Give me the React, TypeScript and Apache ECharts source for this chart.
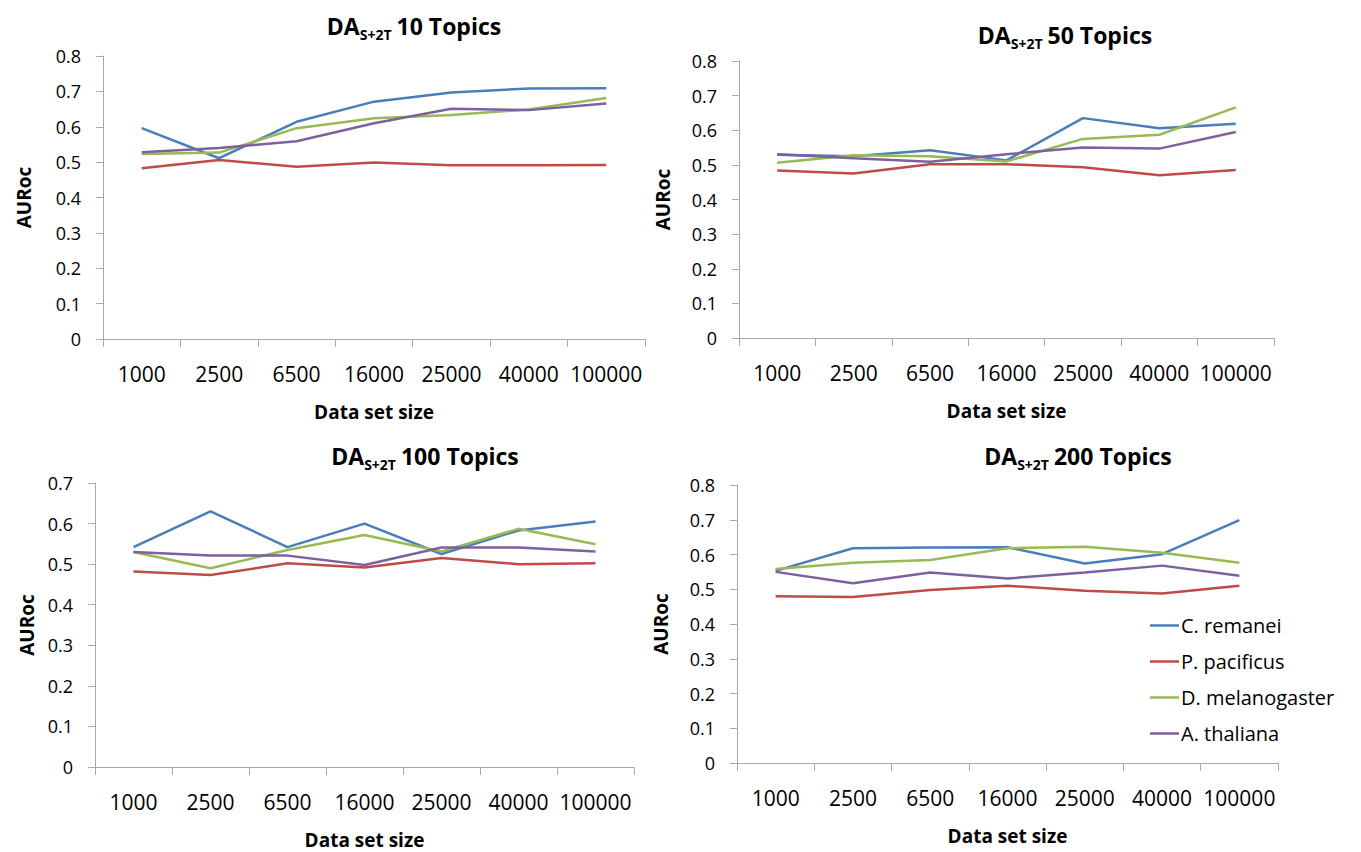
import React, { useEffect, useRef } from "react";
import * as echarts from "echarts";

const categories = ["1000", "2500", "6500", "16000", "25000", "40000", "100000"];
const speciesNames = ["C. remanei", "P. pacificus", "D. melanogaster", "A. thaliana"];
const speciesColors = ["#4A7EBB", "#BE4B48", "#98B954", "#7D60A0"];

// 10 topics
const t10Remanei = [0.596, 0.511, 0.614, 0.671, 0.697, 0.708, 0.709];
const t10Pacificus = [0.483, 0.506, 0.487, 0.499, 0.491, 0.491, 0.492];
const t10Melanogaster = [0.523, 0.527, 0.596, 0.624, 0.633, 0.649, 0.681];
const t10Thaliana = [0.528, 0.54, 0.559, 0.61, 0.651, 0.647, 0.666];

// 50 topics
const t50Remanei = [0.529, 0.525, 0.542, 0.513, 0.635, 0.606, 0.619];
const t50Pacificus = [0.484, 0.475, 0.502, 0.502, 0.493, 0.47, 0.485];
const t50Melanogaster = [0.506, 0.528, 0.525, 0.51, 0.575, 0.587, 0.666];
const t50Thaliana = [0.531, 0.519, 0.509, 0.531, 0.55, 0.547, 0.595];

// 100 topics
const t100Remanei = [0.542, 0.63, 0.542, 0.6, 0.525, 0.583, 0.605];
const t100Pacificus = [0.482, 0.473, 0.502, 0.492, 0.515, 0.5, 0.502];
const t100Melanogaster = [0.53, 0.49, 0.535, 0.572, 0.531, 0.587, 0.549];
const t100Thaliana = [0.53, 0.521, 0.521, 0.498, 0.541, 0.541, 0.531];

// 200 topics
const t200Remanei = [0.553, 0.618, 0.62, 0.621, 0.574, 0.601, 0.699];
const t200Pacificus = [0.48, 0.478, 0.498, 0.51, 0.496, 0.488, 0.51];
const t200Melanogaster = [0.558, 0.576, 0.584, 0.618, 0.622, 0.605, 0.576];
const t200Thaliana = [0.55, 0.517, 0.548, 0.531, 0.548, 0.568, 0.539];

const topicCounts = ["10", "50", "100", "200"];
const yMaxes = [0.8, 0.8, 0.7, 0.8];
const panelData = [
  [t10Remanei, t10Pacificus, t10Melanogaster, t10Thaliana],
  [t50Remanei, t50Pacificus, t50Melanogaster, t50Thaliana],
  [t100Remanei, t100Pacificus, t100Melanogaster, t100Thaliana],
  [t200Remanei, t200Pacificus, t200Melanogaster, t200Thaliana],
];

const FONT = "'Open Sans', 'Liberation Sans', sans-serif";

// layout (pixels)
const grids = [
  { left: 103, top: 56, width: 542, height: 283 },
  { left: 739, top: 61, width: 535, height: 277 },
  { left: 95, top: 483, width: 539, height: 284 },
  { left: 737, top: 485, width: 541, height: 278 },
];
const titlePos = [
  { x: 409, y: 6 },
  { x: 1060, y: 15 },
  { x: 420, y: 436 },
  { x: 1073, y: 436 },
];
const yNameGaps = [70, 67, 59, 67];

export default function App() {
  const ref = useRef<HTMLDivElement>(null);
  useEffect(() => {
    document.body.style.margin = "0";
    const chart = echarts.init(ref.current!, undefined, { renderer: "svg" });
    const axisColor = "#a9a9a9";
    const option: any = {
      animation: false,
      backgroundColor: "#ffffff",
      textStyle: { fontFamily: FONT },
      title: topicCounts.map((t, i) => ({
        text: `DA{s|S+2T}${t} Topics`,
        left: titlePos[i].x,
        top: titlePos[i].y,
        textAlign: "center",
        textStyle: {
          fontFamily: FONT,
          fontSize: 23,
          fontWeight: "bold",
          color: "#000",
          lineHeight: 30,
          rich: {
            s: {
              fontFamily: FONT,
              fontSize: 14,
              fontWeight: "bold",
              color: "#000",
              verticalAlign: "bottom",
              lineHeight: 14,
              padding: [0, 5, 0, 0],
            },
          },
        },
      })),
      legend: {
        orient: "vertical",
        left: 1145,
        top: 610,
        icon: "rect",
        itemWidth: 29,
        itemHeight: 2.5,
        itemGap: 15,
        data: speciesNames,
        textStyle: { fontFamily: FONT, fontSize: 20, color: "#000", lineHeight: 21, padding: [0, 0, 0, -3] },
      },
      grid: grids.map((g) => ({ ...g, containLabel: false })),
      xAxis: grids.map((_, i) => ({
        type: "category",
        gridIndex: i,
        data: categories,
        boundaryGap: true,
        name: "Data set size",
        nameLocation: "middle",
        nameGap: 63,
        nameTextStyle: { fontFamily: FONT, fontSize: 19, fontWeight: "bold", color: "#000" },
        axisLine: { lineStyle: { color: axisColor, width: 1 } },
        axisTick: { show: true, length: 8, interval: 0, lineStyle: { color: axisColor } },
        axisLabel: { margin: 24, fontFamily: FONT, fontSize: 21, color: "#000", interval: 0 },
        splitLine: { show: false },
      })),
      yAxis: grids.map((_, i) => ({
        type: "value",
        gridIndex: i,
        min: 0,
        max: yMaxes[i],
        interval: 0.1,
        name: "AURoc",
        nameLocation: "middle",
        nameGap: yNameGaps[i],
        nameRotate: 90,
        nameTextStyle: { fontFamily: FONT, fontSize: 19, fontWeight: "bold", color: "#000" },
        axisLine: { show: true, lineStyle: { color: axisColor, width: 1 } },
        axisTick: { show: true, length: 7, lineStyle: { color: axisColor } },
        axisLabel: {
          margin: 22,
          fontFamily: FONT,
          fontSize: 18,
          color: "#000",
          formatter: (v: number) => (v === 0 ? "0" : v.toFixed(1)),
        },
        splitLine: { show: false },
      })),
      series: panelData.flatMap((panel, pi) =>
        panel.map((vals, si) => ({
          type: "line",
          name: speciesNames[si],
          xAxisIndex: pi,
          yAxisIndex: pi,
          data: vals,
          symbol: "none",
          showSymbol: false,
          lineStyle: { color: speciesColors[si], width: 2.5 },
          itemStyle: { color: speciesColors[si] },
          z: 2,
        }))
      ),
    };
    chart.setOption(option);
    return () => chart.dispose();
  }, []);
  return <div ref={ref} style={{ width: 1361, height: 852 }} />;
}
